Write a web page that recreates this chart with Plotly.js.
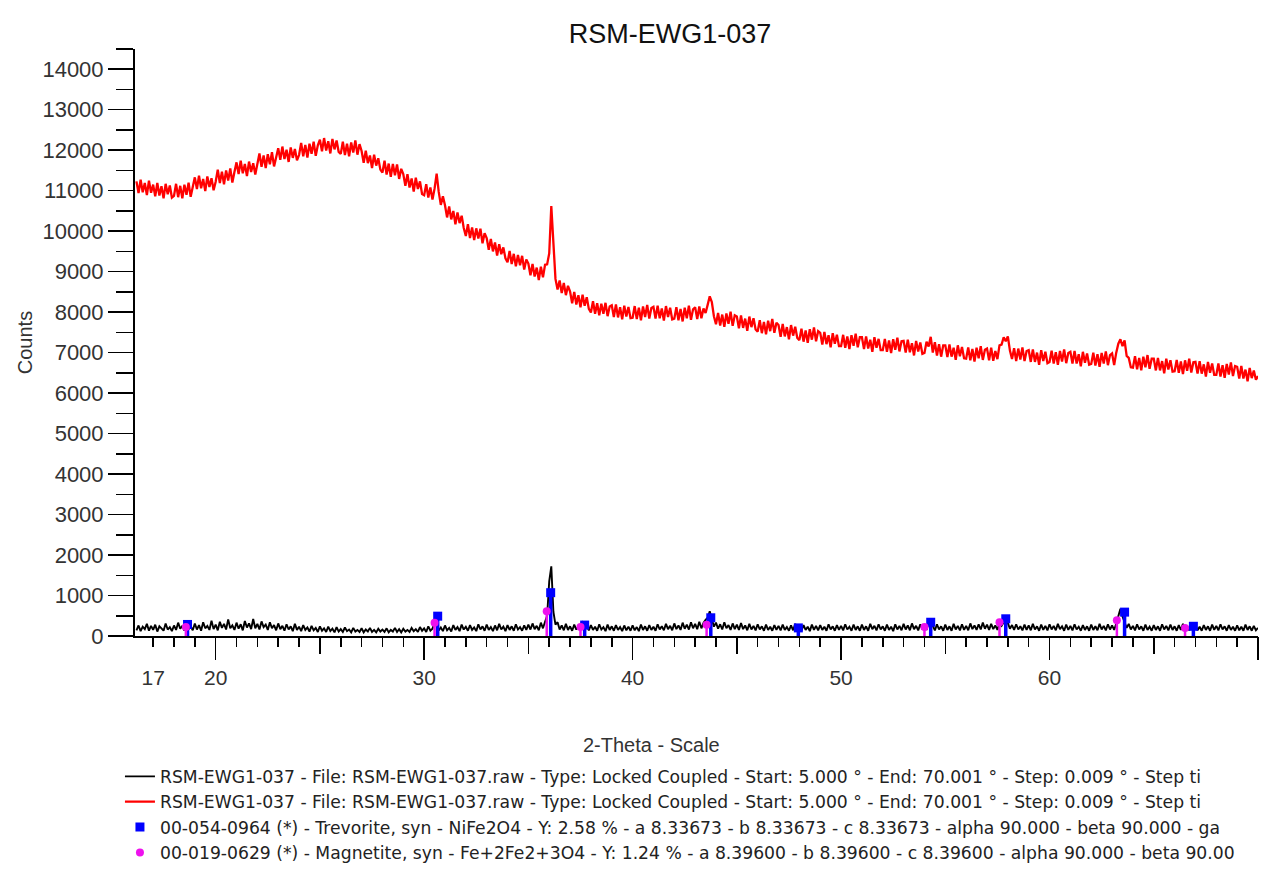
<!DOCTYPE html>
<html>
<head>
<meta charset="utf-8">
<script src="https://cdn.plot.ly/plotly-3.0.1.min.js"></script>
<style>html,body{margin:0;padding:0;background:#fff;}</style>
</head>
<body>
<div id="chart" style="width:1265px;height:895px;"></div>
<script>
const twoThetaStart = 16.2;
const twoThetaStep = 0.1;

// Red pattern (raw scan with amorphous hump), counts, 16.2 .. 70.0 deg
const redCounts = [
11230, 10940, 11270, 10960, 11190, 10890, 11250, 10950,
11150, 10860, 11190, 10880, 11110, 10810, 11170, 10910, 11130, 10830,
10870, 11170, 10840, 11120, 10810, 11150, 10900, 11200, 10850, 11110,
11330, 11040, 11370, 11060, 11290, 10990, 11350, 11090, 11310, 11010,
11220, 11520, 11190, 11470, 11160, 11500, 11250, 11550, 11200, 11460,
11700, 11410, 11740, 11430, 11660, 11360, 11720, 11460, 11680, 11400,
11620, 11920, 11590, 11870, 11560, 11900, 11650, 11950, 11600, 11860,
12050, 11760, 12090, 11780, 12010, 11710, 12070, 11810, 12030, 11750,
11880, 12180, 11850, 12130, 11820, 12160, 11910, 12210, 11860, 12120,
12260, 11970, 12300, 11990, 12220, 11920, 12280, 12020, 12240, 11960,
11910, 12210, 11880, 12160, 11850, 12190, 11940, 12240, 11890, 12150,
11980, 11690, 11990, 11680, 11870, 11560, 11890, 11620, 11800, 11520,
11450, 11740, 11400, 11670, 11340, 11660, 11380, 11650, 11290, 11540,
11410, 11120, 11410, 11080, 11300, 10980, 11320, 11040, 11230, 10920,
10890, 11160, 10830, 11080, 10780, 11050, 11420, 10970, 10650, 10860,
10640, 10340, 10610, 10290, 10500, 10170, 10460, 10200, 10380, 10080,
9880, 10170, 9830, 10090, 9780, 10070, 9820, 10060, 9700, 9950,
9830, 9540, 9810, 9500, 9720, 9400, 9680, 9430, 9600, 9330,
9230, 9510, 9190, 9440, 9130, 9410, 9160, 9390, 9050, 9300,
9200, 8910, 9190, 8880, 9100, 8790, 9120, 8860, 9170, 9180,
9450, 10620, 9700, 8820, 8560, 8780, 8470, 8720, 8420, 8650,
8510, 8220, 8500, 8190, 8420, 8120, 8430, 8160, 8370, 8080,
7990, 8270, 7960, 8220, 7920, 8210, 7960, 8230, 7900, 8140,
8170, 7880, 8190, 7870, 8120, 7820, 8160, 7890, 8130, 7850,
7860, 8150, 7830, 8110, 7800, 8140, 7880, 8180, 7840, 8100,
8130, 7840, 8160, 7850, 8090, 7790, 8150, 7880, 8110, 7820,
7840, 8120, 7800, 8080, 7770, 8110, 7850, 8160, 7810, 8070,
8120, 7830, 8140, 7850, 8090, 7980, 8180, 8390, 8250, 7900,
7700, 7980, 7670, 7940, 7640, 7970, 7710, 8010, 7660, 7920,
7890, 7600, 7920, 7610, 7840, 7540, 7890, 7630, 7850, 7570,
7520, 7800, 7480, 7760, 7450, 7790, 7530, 7830, 7490, 7740,
7680, 7390, 7710, 7400, 7630, 7330, 7680, 7420, 7640, 7360,
7310, 7590, 7270, 7550, 7240, 7580, 7320, 7620, 7280, 7530,
7490, 7200, 7510, 7210, 7430, 7130, 7480, 7220, 7440, 7160,
7160, 7440, 7120, 7400, 7090, 7430, 7170, 7470, 7130, 7380,
7380, 7090, 7400, 7100, 7320, 7020, 7380, 7120, 7340, 7060,
7060, 7340, 7020, 7300, 6990, 7330, 7070, 7370, 7030, 7280,
7290, 7000, 7320, 7010, 7230, 6930, 7290, 7030, 7250, 6970,
6990, 7270, 7150, 7390, 7000, 7260, 6930, 7210, 6900, 7180,
7180, 6890, 7200, 6900, 7120, 6820, 7180, 6910, 7140, 6860,
6850, 7130, 6810, 7090, 6780, 7120, 6860, 7160, 6820, 7070,
7100, 6810, 7120, 6800, 7040, 6840, 7180, 7200, 7380, 7280,
7400, 7050, 6840, 7110, 6790, 7100, 6830, 7130, 6790, 7040,
7060, 6770, 7080, 6770, 7000, 6700, 7060, 6790, 7020, 6740,
6770, 7050, 6730, 7010, 6700, 7040, 6780, 7080, 6740, 6990,
7020, 6730, 7040, 6730, 6960, 6660, 7020, 6750, 6980, 6700,
6720, 7000, 6680, 6960, 6650, 6990, 6730, 7030, 6690, 6940,
6980, 6690, 7000, 7220, 7330, 7160, 7300, 6920, 6870, 6640,
6630, 6910, 6590, 6870, 6560, 6900, 6640, 6940, 6600, 6850,
6850, 6560, 6870, 6560, 6790, 6490, 6850, 6580, 6810, 6530,
6540, 6820, 6500, 6780, 6470, 6810, 6550, 6850, 6510, 6760,
6770, 6480, 6790, 6480, 6710, 6410, 6770, 6500, 6730, 6450,
6450, 6730, 6410, 6690, 6380, 6720, 6460, 6760, 6420, 6670,
6650, 6360, 6670, 6360, 6580, 6290, 6620, 6370, 6560, 6330,
6420
];

// Black pattern (background-subtracted scan), counts, 16.2 .. 70.0 deg
const blackCounts = [
140, 260, 120, 230, 170, 300, 130, 250,
150, 280, 110, 240, 190, 130, 310, 160, 220, 120,
260, 150, 330, 180, 250, 130, 290, 170, 240, 140,
310, 160, 270, 130, 340, 190, 250, 150, 380, 170,
280, 140, 350, 200, 300, 160, 410, 190, 260, 150,
330, 180, 290, 140, 370, 210, 310, 170, 420, 190,
300, 160, 360, 220, 280, 150, 340, 190, 270, 140,
310, 170, 250, 130, 290, 160, 240, 120, 300, 150,
230, 120, 270, 150, 210, 110, 250, 140, 200, 100,
240, 130, 190, 100, 230, 120, 180, 90, 220, 110,
170, 100, 210, 120, 160, 90, 200, 110, 150, 100,
190, 90, 160, 110, 200, 100, 150, 90, 180, 110,
160, 100, 190, 90, 150, 110, 200, 100, 170, 90,
180, 110, 150, 100, 200, 120, 170, 100, 220, 130,
190, 100, 240, 130, 180, 350, 300, 140, 210, 120,
260, 140, 200, 110, 270, 150, 220, 120, 280, 160,
230, 130, 270, 150, 210, 120, 290, 160, 240, 130,
280, 150, 220, 120, 260, 140, 300, 160, 230, 120,
270, 150, 240, 130, 290, 160, 220, 130, 260, 150,
280, 160, 310, 170, 250, 140, 330, 190, 350, 500,
1350, 1720, 600, 280, 340, 160, 260, 140, 300, 150,
240, 130, 280, 160, 230, 290, 340, 200, 250, 140,
270, 150, 230, 130, 290, 160, 220, 120, 280, 150,
240, 130, 270, 150, 220, 120, 260, 140, 230, 130,
260, 140, 220, 120, 280, 150, 240, 130, 270, 150,
230, 130, 290, 160, 240, 140, 300, 170, 250, 140,
310, 170, 260, 150, 330, 180, 280, 160, 340, 190,
300, 170, 350, 190, 320, 400, 450, 610, 420, 230,
330, 180, 290, 160, 340, 190, 270, 150, 310, 170,
280, 150, 320, 170, 260, 140, 300, 160, 250, 140,
290, 160, 240, 130, 280, 150, 230, 130, 270, 150,
250, 140, 280, 150, 220, 130, 260, 140, 300, 160,
240, 130, 270, 150, 230, 120, 280, 150, 250, 140,
270, 150, 230, 130, 290, 160, 240, 130, 270, 150,
250, 140, 290, 160, 230, 130, 280, 150, 240, 130,
280, 150, 240, 130, 300, 170, 250, 140, 290, 160,
240, 130, 280, 150, 230, 120, 290, 160, 250, 140,
300, 160, 260, 140, 310, 170, 250, 140, 290, 160,
270, 150, 330, 360, 250, 140, 290, 160, 240, 130,
280, 150, 240, 130, 300, 160, 250, 140, 290, 150,
250, 140, 310, 170, 260, 150, 290, 160, 330, 180,
280, 150, 300, 170, 260, 150, 320, 250, 340, 400,
320, 180, 270, 150, 290, 160, 240, 140, 280, 150,
260, 140, 300, 160, 240, 130, 280, 150, 250, 140,
290, 160, 250, 140, 300, 170, 240, 130, 280, 150,
250, 140, 290, 160, 230, 130, 270, 150, 240, 130,
280, 150, 240, 140, 300, 160, 250, 140, 290, 160,
260, 150, 310, 520, 670, 480, 360, 200, 300, 160,
250, 140, 290, 160, 240, 130, 280, 150, 230, 130,
270, 150, 240, 130, 290, 160, 250, 140, 280, 150,
240, 130, 270, 150, 300, 170, 250, 140, 290, 160,
260, 140, 230, 130, 270, 150, 240, 130, 280, 150,
250, 140, 290, 160, 240, 130, 270, 150, 230, 130,
260, 140, 230, 130, 280, 150, 240, 130, 250, 140,
200
];

// Reference sticks: Trevorite (blue squares)
const trevoriteTheta = [18.65, 30.65, 36.07, 37.7, 43.75, 47.95, 54.3, 57.9, 63.6, 66.9];
const trevoriteCounts = [285, 490, 1070, 270, 450, 200, 340, 425, 590, 240];
// Reference sticks: Magnetite (magenta circles)
const magnetiteTheta = [18.57, 30.5, 35.88, 37.5, 43.55, 54.0, 57.6, 63.23, 66.5];
const magnetiteCounts = [220, 325, 610, 220, 280, 220, 340, 390, 200];

// Tick labels
const xTickVals = [17, 20, 30, 40, 50, 60];
const xTickText = ['17', '20', '30', '40', '50', '60'];

// Legend texts (clipped as in the original)
const legendNames = [
  'RSM-EWG1-037 - File: RSM-EWG1-037.raw - Type: Locked Coupled - Start: 5.000 ° - End: 70.001 ° - Step: 0.009 ° - Step ti',
  'RSM-EWG1-037 - File: RSM-EWG1-037.raw - Type: Locked Coupled - Start: 5.000 ° - End: 70.001 ° - Step: 0.009 ° - Step ti',
  '00-054-0964 (*) - Trevorite, syn - NiFe2O4 - Y: 2.58 % - a 8.33673 - b 8.33673 - c 8.33673 - alpha 90.000 - beta 90.000 - ga',
  '00-019-0629 (*) - Magnetite, syn - Fe+2Fe2+3O4 - Y: 1.24 % - a 8.39600 - b 8.39600 - c 8.39600 - alpha 90.000 - beta 90.00'
];

const theta = redCounts.map((_, i) => +(twoThetaStart + i * twoThetaStep).toFixed(2));
const xRange = [16.13, 70.0];

const traces = [
  {x: theta, y: blackCounts, type: 'scatter', mode: 'lines', name: legendNames[0],
   line: {color: '#000000', width: 1.9}, legendgroup: 'a', hoverinfo: 'skip'},
  {x: theta, y: redCounts, type: 'scatter', mode: 'lines', name: legendNames[1],
   line: {color: '#ff0000', width: 2.3}, legendgroup: 'b', hoverinfo: 'skip'},
  {x: trevoriteTheta, y: trevoriteCounts, type: 'scatter', mode: 'markers', name: legendNames[2],
   marker: {color: '#0000ff', symbol: 'square', size: 9},
   error_y: {type: 'data', symmetric: false, array: trevoriteCounts.map(() => 0), arrayminus: trevoriteCounts,
             thickness: 3.5, width: 0, color: '#0000ff'},
   legendgroup: 'c', hoverinfo: 'skip'},
  {x: magnetiteTheta, y: magnetiteCounts, type: 'scatter', mode: 'markers', name: legendNames[3],
   marker: {color: '#ee11ee', symbol: 'circle', size: 8},
   error_y: {type: 'data', symmetric: false, array: magnetiteCounts.map(() => 0), arrayminus: magnetiteCounts,
             thickness: 2.5, width: 0, color: '#ee11ee'},
   legendgroup: 'd', hoverinfo: 'skip'},
  // empty carriers so the tick-only overlay axes are drawn
  {x: [], y: [], xaxis: 'x2', yaxis: 'y', type: 'scatter', showlegend: false, hoverinfo: 'skip'},
  {x: [], y: [], xaxis: 'x3', yaxis: 'y', type: 'scatter', showlegend: false, hoverinfo: 'skip'},
  {x: [], y: [], xaxis: 'x4', yaxis: 'y', type: 'scatter', showlegend: false, hoverinfo: 'skip'}
];

const tickAxis = (dtick, len) => ({
  overlaying: 'x', anchor: 'y', side: 'bottom', range: xRange,
  tickmode: 'linear', tick0: 0, dtick: dtick, ticks: 'outside', ticklen: len,
  tickwidth: 1.5, tickcolor: '#000', showticklabels: false, showline: false,
  showgrid: false, zeroline: false, fixedrange: true
});

const layout = {
  width: 1265, height: 895,
  margin: {l: 135, r: 7, t: 49, b: 259},
  paper_bgcolor: '#ffffff', plot_bgcolor: '#ffffff',
  font: {family: '"Liberation Sans", Arial, sans-serif', color: '#222'},
  title: {text: 'RSM-EWG1-037', font: {size: 27, color: '#111'},
          xref: 'paper', x: 0.4764, xanchor: 'center',
          yref: 'container', y: 0.963, yanchor: 'middle'},
  showlegend: true,
  legend: {x: -0.0134, y: -0.209, xanchor: 'left', yanchor: 'top',
           font: {size: 17.2, color: '#222', family: '"DejaVu Sans", sans-serif'}, tracegroupgap: 9.5,
           bgcolor: 'rgba(0,0,0,0)', traceorder: 'normal'},
  xaxis: {range: xRange, tickmode: 'array', tickvals: xTickVals, ticktext: xTickText,
          ticks: '', showline: true, linecolor: '#000', linewidth: 2,
          showgrid: false, zeroline: false, tickfont: {size: 21, color: '#333'},
          ticklabelstandoff: 22, fixedrange: true},
  xaxis2: tickAxis(1, 10),
  xaxis3: tickAxis(5, 17),
  xaxis4: tickAxis(10, 23),
  yaxis: {range: [0, 14500], tickmode: 'linear', tick0: 0, dtick: 1000, tickformat: 'd',
          ticks: 'outside', ticklen: 25, tickwidth: 1.5, tickcolor: '#000',
          showline: true, linecolor: '#000', linewidth: 2,
          showgrid: false, zeroline: false, tickfont: {size: 22, color: '#333'},
          minor: {tick0: 0, dtick: 500, ticks: 'outside', ticklen: 17, tickwidth: 1.5, tickcolor: '#000'},
          title: {text: 'Counts', font: {size: 20, color: '#333'}, standoff: 4},
          fixedrange: true},
  annotations: [
    {text: '2-Theta - Scale', xref: 'paper', yref: 'paper', x: 0.4595, y: -0.1857,
     xanchor: 'center', yanchor: 'middle', showarrow: false, font: {size: 20, color: '#333'}}
  ]
};

Plotly.newPlot('chart', traces, layout, {displayModeBar: false, staticPlot: true});
</script>
</body>
</html>
